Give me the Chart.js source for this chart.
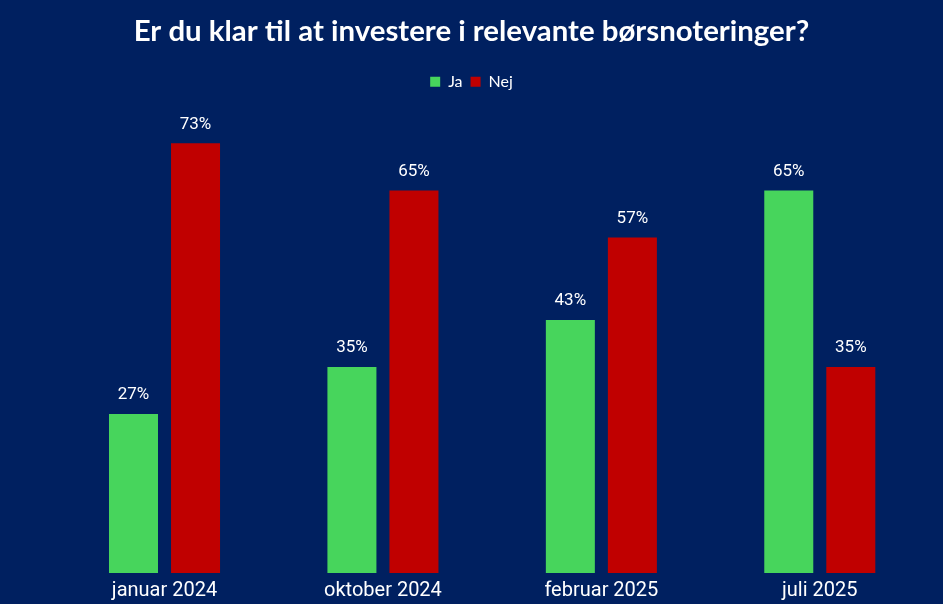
<!DOCTYPE html>
<html>
<head>
<meta charset="utf-8">
<script src="https://cdn.jsdelivr.net/npm/chart.js@4"></script>
<style>
  html, body { margin: 0; padding: 0; background: #002060; }
  #wrap { width: 943px; height: 604px; position: relative; }
</style>
</head>
<body>
<div id="wrap"><canvas id="chart"></canvas></div>
<script>
const categories = ['januar 2024', 'oktober 2024', 'februar 2025', 'juli 2025'];
const jaValues = [27, 35, 43, 65];
const nejValues = [73, 65, 57, 35];
const seriesNames = ['Ja', 'Nej'];

// tekst over hver søjle
const valueLabels = {
    id: 'valueLabels',
    afterDatasetsDraw(chart) {
        const ctx = chart.ctx;
        ctx.save();
        ctx.fillStyle = '#ffffff';
        ctx.font = '17px Roboto, sans-serif';
        ctx.textAlign = 'center';
        ctx.textBaseline = 'middle';
        chart.data.datasets.forEach((ds, i) => {
            chart.getDatasetMeta(i).data.forEach((bar, j) => {
                ctx.fillText(ds.data[j] + '%', bar.x, bar.y - 19);
            });
        });
        ctx.restore();
    }
};

new Chart(document.getElementById('chart'), {
    type: 'bar',
    data: {
        labels: categories,
        datasets: [
            { label: seriesNames[0], data: jaValues, backgroundColor: '#47D55C' },
            { label: seriesNames[1], data: nejValues, backgroundColor: '#C00000' }
        ]
    },
    options: {
        responsive: true,
        maintainAspectRatio: false,
        animation: false,
        categoryPercentage: 0.568,
        barPercentage: 0.79,
        layout: { padding: { left: 14, right: 14, top: 0, bottom: 3 } },
        scales: {
            x: {
                grid: { display: false },
                border: { display: false },
                ticks: { color: '#ffffff', font: { family: 'Roboto, sans-serif', size: 20 }, padding: -2 }
            },
            y: {
                min: 0,
                max: 80.4,
                grid: { display: false },
                border: { display: false },
                ticks: { display: false },
                // usynlig akse, holder plads til venstre
                afterFit(scale) { scale.width = 41.3; }
            }
        },
        plugins: {
            title: {
                display: true,
                text: 'Er du klar til at investere i relevante børsnoteringer?',
                color: '#ffffff',
                font: { family: 'Lato, sans-serif', size: 29.4, weight: 'bold' },
                padding: { top: 13.5, bottom: 17 }
            },
            legend: {
                position: 'top',
                labels: {
                    color: '#ffffff',
                    font: { family: 'Lato, sans-serif', size: 16 },
                    boxWidth: 10,
                    boxHeight: 10,
                    padding: 8
                }
            },
            tooltip: { enabled: false }
        }
    },
    plugins: [valueLabels]
});
</script>
</body>
</html>
